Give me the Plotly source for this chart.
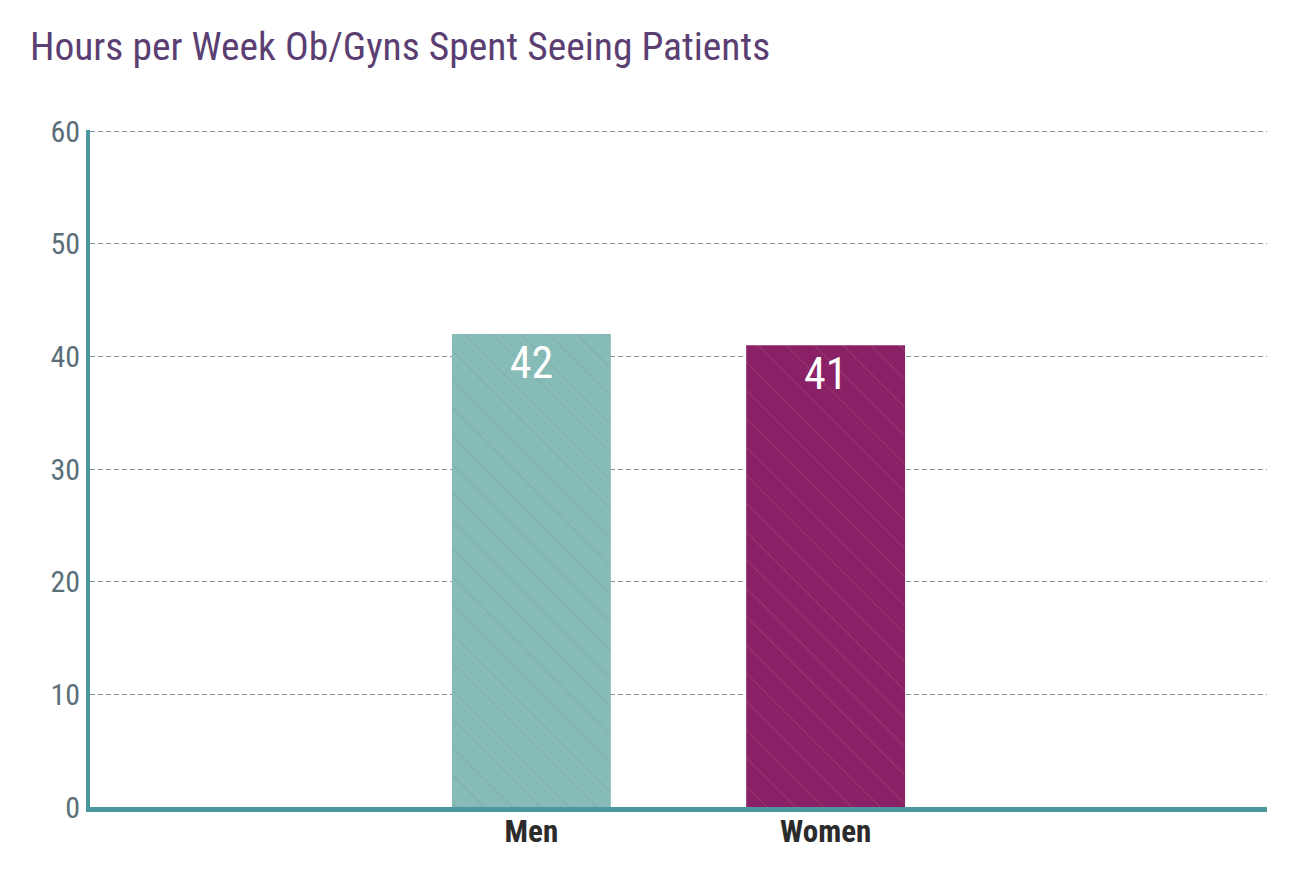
import plotly.graph_objects as go

# chart data
categories = ["Men", "Women"]
hours = [42, 41]
bar_colors = ["#86bbb8", "#8a2066"]
y_ticks = [0, 10, 20, 30, 40, 50, 60]

FONT = "Roboto Condensed, Liberation Sans Narrow, Roboto, sans-serif"
TEAL = "#4a979e"

fig = go.Figure()

fig.add_trace(go.Bar(
    x=categories, y=hours,
    width=0.54,
    marker=dict(
        color=bar_colors,
        line_width=0,
        pattern=dict(shape="\\", size=20, solidity=0.04,
                     fgcolor="#ffffff", fgopacity=0.18),
    ),
    text=[str(h) for h in hours],
    textposition="inside",
    insidetextanchor="end",
    textfont=dict(family=FONT, size=44, color="white"),
    cliponaxis=False,
    showlegend=False,
))

fig.update_layout(
    width=1290, height=878,
    margin=dict(l=82, r=31, t=122, b=79),
    paper_bgcolor="white",
    plot_bgcolor="white",
    font=dict(family=FONT),
    title=dict(text="Hours per Week Ob/Gyns Spent Seeing Patients",
               x=0.017, xanchor="left", y=0.957, yanchor="middle",
               font=dict(family=FONT, size=39.5, color="#5b3f73")),
    bargap=0.46,
)

fig.update_xaxes(
    type="category",
    range=[-1.5, 2.5],
    showline=True, linecolor=TEAL, linewidth=5,
    showgrid=False, ticks="",
    ticklabelstandoff=-7,
    tickfont=dict(family=FONT, size=31, color="#2b2b2b", weight="bold"),
)

fig.update_yaxes(
    range=[0, 60.1],
    tickvals=y_ticks,
    showline=True, linecolor=TEAL, linewidth=4,
    showgrid=True, gridcolor="#83939c", gridwidth=1.2, griddash="5px,3px",
    zeroline=False, ticks="",
    tickfont=dict(family=FONT, size=30, color="#5b6f79"),
)

fig.write_html("out.html")
